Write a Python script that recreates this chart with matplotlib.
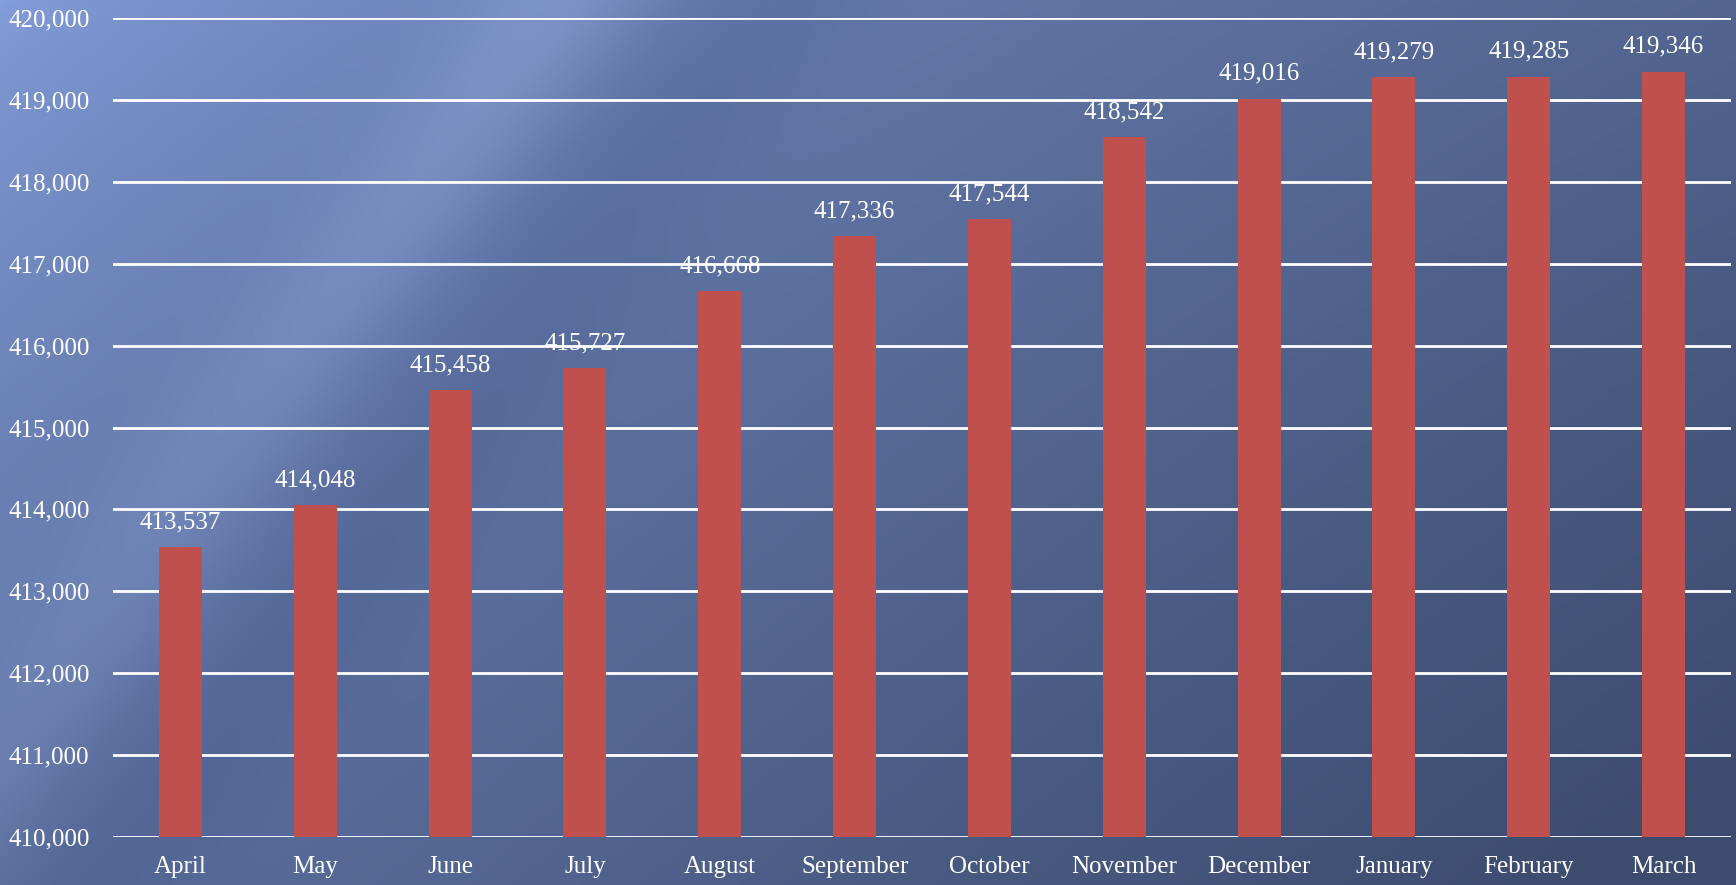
import matplotlib.pyplot as plt
import numpy as np

months = ["April", "May", "June", "July", "August", "September", "October",
          "November", "December", "January", "February", "March"]
values = [413537, 414048, 415458, 415727, 416668, 417336, 417544,
          418542, 419016, 419279, 419285, 419346]
y_ticks = list(range(410000, 420001, 1000))

plt.rcParams['font.family'] = ['Liberation Serif', 'DejaVu Serif']

W, H = 1736, 885
fig = plt.figure(figsize=(W / 100, H / 100), dpi=100)

# background: blue gradient with a pale diagonal streak
bg = fig.add_axes([0, 0, 1, 1])
yy, xx = np.mgrid[0:H, 0:W]
u = xx / W
v = yy / H
t = np.clip(0.55 * u + 0.35 * v + 0.15 * u * v, 0, 1)
t = t ** 0.6
light = np.array([134, 160, 222]) / 255
dark = np.array([60, 75, 110]) / 255
img = light[None, None, :] * (1 - t[..., None]) + dark[None, None, :] * t[..., None]
# diagonal streak
d = (xx + 0.75 * yy - 560) / 90.0
streak = np.exp(-d ** 2) * np.clip(1 - yy / H * 0.6, 0, 1)
img = img + 0.07 * streak[..., None]
d2 = (xx + 0.75 * yy - 760) / 120.0
img = img - 0.035 * np.exp(-d2 ** 2)[..., None]
img = np.clip(img, 0, 1)
bg.imshow(img, aspect='auto', extent=[0, 1, 0, 1], origin='upper')
bg.axis('off')

ax = fig.add_axes([113 / W, 1 - 837 / H, (1731 - 113) / W, (837 - 18) / H])
ax.patch.set_alpha(0)

x = np.arange(len(months))
bars = ax.bar(x, values, width=0.32, color='#C0504D', zorder=3, bottom=0)
for xi, val in zip(x, values):
    ax.text(xi, val + 170, f"{val:,}", ha='center', va='bottom',
            color='white', fontsize=18, zorder=4)

ax.set_ylim(410000, 420000)
ax.set_xlim(-0.5, len(months) - 0.5)
ax.set_yticks(y_ticks)
ax.set_yticklabels([f"{t:,}" for t in y_ticks])
ax.set_xticks(x)
ax.set_xticklabels(months)
ax.yaxis.grid(True, color='white', linewidth=2, zorder=1)
ax.tick_params(axis='both', length=0, colors='white', labelsize=18)
ax.tick_params(axis='y', pad=17)
ax.tick_params(axis='x', pad=14)
for s in ax.spines.values():
    s.set_visible(False)

fig.savefig('out.png', dpi=100)
